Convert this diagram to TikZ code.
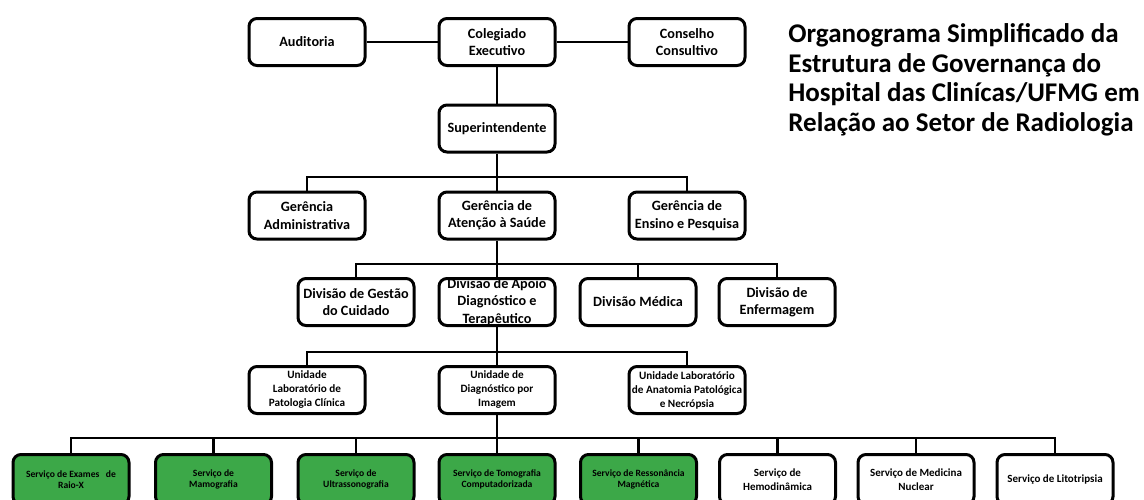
\documentclass[tikz,border=0pt]{standalone}
\usepackage{fontspec}
\setmainfont{Carlito}
\usepackage{tikz}
\usetikzlibrary{positioning}
\definecolor{servgreen}{RGB}{60,168,72}

\begin{document}
\begin{tikzpicture}[
    x=0.5pt, y=-0.5pt,
    link/.style={line width=1.4pt},
    bus/.style={line width=1.1pt},
    orgbox/.style={draw, rectangle, rounded corners=4pt, line width=1.5pt, minimum width=58pt, minimum height=23.5pt, inner sep=0.5pt, align=center, fill=white, font=\fontsize{7.1}{8.7}\selectfont\bfseries},
    unitbox/.style={orgbox, font=\fontsize{5.6}{7}\selectfont\bfseries},
    servbox/.style={orgbox, minimum height=25pt, font=\fontsize{5.5}{6.7}\selectfont\bfseries},
    greenbox/.style={servbox, fill=servgreen, font=\fontsize{4.8}{5.7}\selectfont\bfseries},
    titletext/.style={align=left, inner sep=0pt, font=\fontsize{13.5}{14.9}\selectfont\bfseries}
  ]
    \useasboundingbox (0,0) rectangle (1144,499);

    \node[titletext, anchor=north west] (titulo) at (788,23) {Organograma Simplificado da\\Estrutura de Governança do\\Hospital das Clinícas/UFMG em\\Relação ao Setor de Radiologia};

    % Direction
    \node[orgbox] (aud) at (307,42) {Auditoria};
    \node[orgbox] (col) at (497,42) {Colegiado\\Executivo};
    \node[orgbox] (con) at (687,42) {Conselho\\Consultivo};
    \node[orgbox] (sup) at (497,128.5) {Superintendente};

    \draw[link] (aud) -- (col) -- (con);
    \draw[link] (col) -- (sup);

    % Gerencias
    \node[orgbox] (ger1) at (307,215.5) {Gerência\\Administrativa};
    \node[orgbox] (ger2) at (497,215.5) {Gerência de\\Atenção à Saúde};
    \node[orgbox] (ger3) at (687,215.5) {Gerência de\\Ensino e Pesquisa};

    \coordinate (busG) at (497,177);
    \draw[link] (sup) -- (ger2);
    \draw[link] (ger1.north) |- (busG) -| (ger3.north);

    % Divisoes
    \node[orgbox] (div1) at (356,302) {Divisão de Gestão\\do Cuidado};
    \node[orgbox, inner sep=0pt] (div2) at (497,302) {Divisão de Apoio\\Diagnóstico e\\Terapêutico};
    \node[orgbox] (div3) at (638,302) {Divisão Médica};
    \node[orgbox] (div4) at (777,302) {Divisão de\\Enfermagem};

    \coordinate (busD) at (497,264);
    \draw[link] (ger2) -- (div2);
    \draw[link] (div1.north) |- (busD) -| (div4.north);
    \draw[link] (div3.north) -- (div3.north |- busD);

    % Unidades
    \node[unitbox] (uni1) at (307,390) {Unidade\\Laboratório de\\Patologia Clínica};
    \node[unitbox] (uni2) at (497,390) {Unidade de\\Diagnóstico por\\Imagem};
    \node[unitbox] (uni3) at (687,390) {Unidade Laboratório\\de Anatomia Patológica\\e Necrópsia};

    \coordinate (busU) at (497,352);
    \draw[link] (div2) -- (uni2);
    \draw[link] (uni1.north) |- (busU) -| (uni3.north);

    % Servicos
    \node[greenbox] (srv1) at (71,479.5) {Serviço de Exames~~~de\\Raio-X};
    \node[greenbox] (srv2) at (213.5,479.5) {Serviço de\\Mamografia};
    \node[greenbox] (srv3) at (356,479.5) {Serviço de\\Ultrassonografia};
    \node[greenbox] (srv4) at (497,479.5) {Serviço de Tomografia\\Computadorizada};
    \node[greenbox] (srv5) at (638.5,479.5) {Serviço de Ressonância\\Magnética};
    \node[servbox] (srv6) at (777.5,479.5) {Serviço de\\Hemodinâmica};
    \node[servbox] (srv7) at (916,479.5) {Serviço de Medicina\\Nuclear};
    \node[servbox] (srv8) at (1055,479.5) {Serviço de Litotripsia};

    \coordinate (busS) at (497,438);
    \draw[link] (uni2) -- (srv4);
    \draw[bus] (srv1.north) |- (busS) -| (srv8.north);
    \foreach \s in {srv2,srv3,srv5,srv6,srv7}
      \draw[bus] (\s.north |- busS) -- (\s.north);
  \end{tikzpicture}
\end{document}
